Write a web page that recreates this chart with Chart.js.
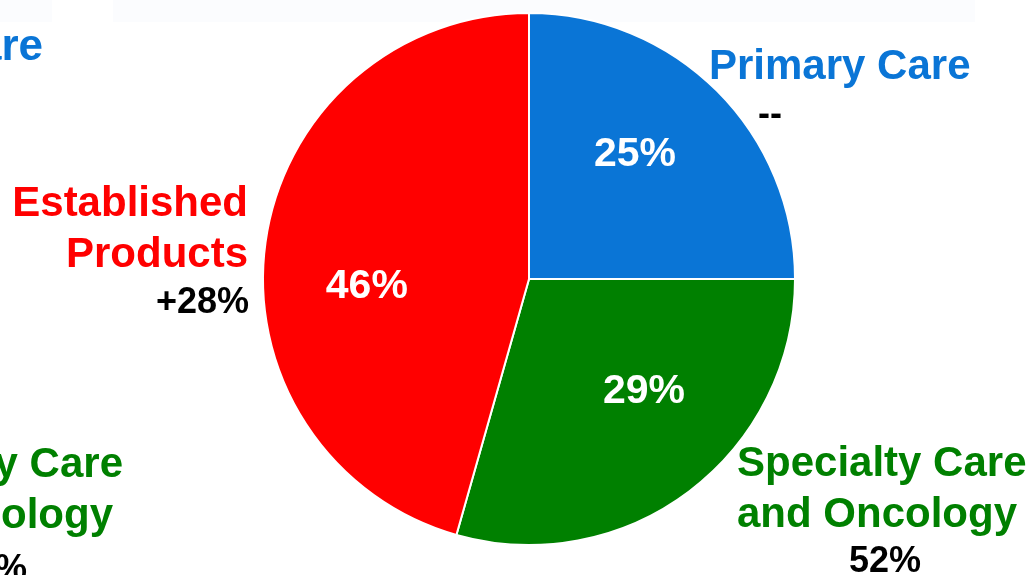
<!DOCTYPE html>
<html>
<head>
<meta charset="utf-8">
<script src="https://cdn.jsdelivr.net/npm/chart.js@4"></script>
<style>
  html, body { margin: 0; padding: 0; background: #fff; overflow: hidden; }
  #wrap { width: 1034px; height: 575px; }
</style>
</head>
<body>
<div id="wrap"><canvas id="chart" width="1034" height="575"></canvas></div>
<script>
// segment data
const segments = ['Primary Care', 'Specialty Care and Oncology', 'Established Products'];
const shares = [25, 29.4, 45.6];
const shareLabels = ['25%', '29%', '46%'];
const colors = ['#0a75d6', '#008000', '#ff0000'];
const changes = ['--', '52%', '+28%'];

// outer label lines (name split like on the slide)
const nameLines = [['Primary Care'], ['Specialty Care', 'and Oncology'], ['Established', 'Products']];
// leftover labels of the neighbouring pie, cut off by the slide edge
const cutLabels = [
  { text: 'are', color: colors[0] },
  { text: 'y Care', color: colors[1] },
  { text: 'ology', color: colors[1] },
  { text: '%', color: '#000' }
];

const FONT = '"Liberation Sans", Arial, sans-serif';

// where the % labels sit inside each slice (angle shift in deg, radius share)
const inside = [{ shift: -5, r: 0.62 }, { shift: -9, r: 0.6 }, { shift: -10, r: 0.61 }];

const labelPlugin = {
  id: 'slideLabels',
  beforeDraw(chart) {
    const ctx = chart.ctx;
    ctx.save();
    ctx.fillStyle = '#fbfcfe';
    ctx.fillRect(0, 0, 52, 22);
    ctx.fillRect(113, 0, 862, 22);
    ctx.restore();
  },
  afterDatasetsDraw(chart) {
    const ctx = chart.ctx;
    const arcs = chart.getDatasetMeta(0).data;
    ctx.save();

    // percentages inside the slices
    ctx.fillStyle = '#fff';
    ctx.textAlign = 'center';
    ctx.textBaseline = 'middle';
    ctx.font = 'bold 41px ' + FONT;
    arcs.forEach((arc, i) => {
      const p = arc.getProps(['x', 'y', 'startAngle', 'endAngle', 'outerRadius'], true);
      const mid = (p.startAngle + p.endAngle) / 2 + inside[i].shift * Math.PI / 180;
      const r = p.outerRadius * inside[i].r;
      ctx.fillText(shareLabels[i], p.x + Math.cos(mid) * r, p.y + Math.sin(mid) * r + 2);
    });

    ctx.textBaseline = 'alphabetic';
    ctx.font = 'bold 42px ' + FONT;

    // Primary Care
    ctx.textAlign = 'left';
    ctx.fillStyle = colors[0];
    ctx.fillText(nameLines[0][0], 709, 79);
    ctx.fillStyle = '#000';
    ctx.textAlign = 'center';
    ctx.font = 'bold 36px ' + FONT;
    ctx.fillText(changes[0], 770, 125);

    // Specialty Care and Oncology
    ctx.font = 'bold 42px ' + FONT;
    ctx.textAlign = 'left';
    ctx.fillStyle = colors[1];
    ctx.fillText(nameLines[1][0], 737, 476);
    ctx.fillText(nameLines[1][1], 737, 527);
    ctx.fillStyle = '#000';
    ctx.textAlign = 'center';
    ctx.font = 'bold 36px ' + FONT;
    ctx.fillText(changes[1], 885, 572);

    // Established Products
    ctx.font = 'bold 42px ' + FONT;
    ctx.textAlign = 'right';
    ctx.fillStyle = colors[2];
    ctx.fillText(nameLines[2][0], 248, 216);
    ctx.fillText(nameLines[2][1], 248, 267);
    ctx.fillStyle = '#000';
    ctx.font = 'bold 36px ' + FONT;
    ctx.fillText(changes[2], 249, 313);

    // cut-off labels on the left edge
    ctx.textAlign = 'right';
    ctx.font = 'bold 44px ' + FONT;
    ctx.fillStyle = cutLabels[0].color;
    ctx.fillText(cutLabels[0].text, 43, 60);
    ctx.font = 'bold 42px ' + FONT;
    ctx.fillStyle = cutLabels[1].color;
    ctx.fillText(cutLabels[1].text, 123, 477);
    ctx.fillText(cutLabels[2].text, 113, 528);
    ctx.fillStyle = cutLabels[3].color;
    ctx.font = 'bold 36px ' + FONT;
    ctx.fillText(cutLabels[3].text, 27, 580);

    ctx.restore();
  }
};

new Chart(document.getElementById('chart'), {
  type: 'pie',
  data: {
    labels: segments,
    datasets: [{
      data: shares,
      backgroundColor: colors,
      borderColor: '#fff',
      borderWidth: 2
    }]
  },
  options: {
    responsive: false,
    animation: false,
    layout: { padding: { left: 262, right: 238, top: 12, bottom: 29 } },
    plugins: {
      legend: { display: false },
      tooltip: { enabled: false }
    }
  },
  plugins: [labelPlugin]
});
</script>
</body>
</html>
